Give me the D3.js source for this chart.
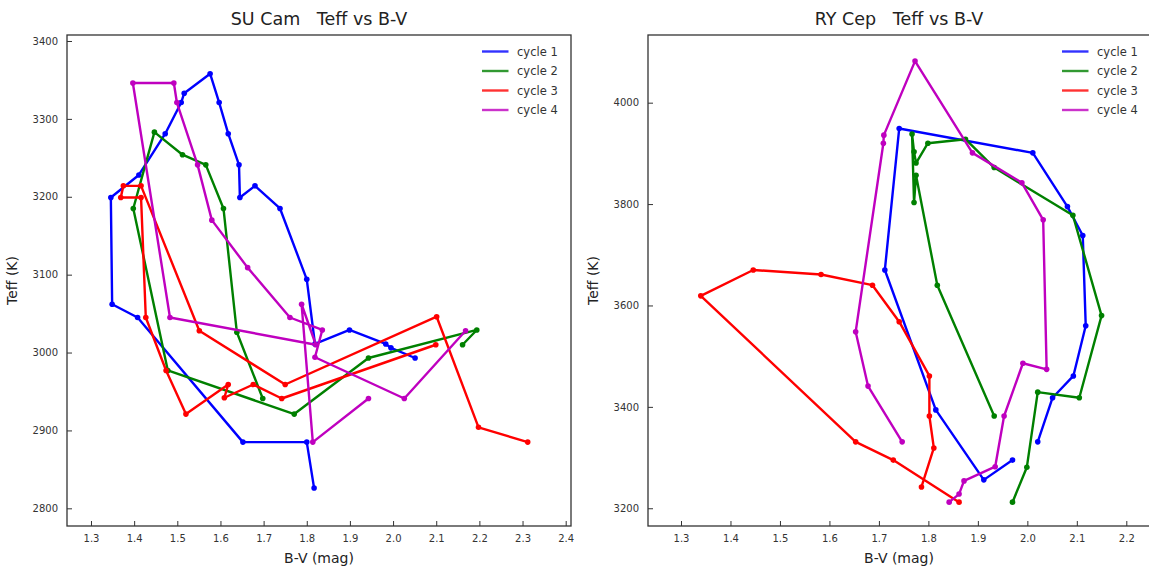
<!DOCTYPE html>
<html><head><meta charset="utf-8">
<script src="https://cdn.jsdelivr.net/npm/d3@7"></script>
<style>
body{margin:0;background:#fff;}
svg{display:block;font-family:"DejaVu Sans",sans-serif;}
</style>
</head><body>
<svg id="chart" width="1149" height="570"></svg>
<script>
// ---------- data ----------
const cycleNames = ["cycle 1", "cycle 2", "cycle 3", "cycle 4"];

// SU Cam
const suCamBV1   = [1.817, 1.800, 1.652, 1.408, 1.349, 1.346, 1.411, 1.472, 1.509, 1.516, 1.576, 1.597, 1.618, 1.643, 1.645, 1.680, 1.738, 1.800, 1.819, 1.899, 1.983, 1.995, 2.051];
const suCamTeff1 = [2826, 2885, 2885, 3045, 3062, 3199, 3228, 3281, 3321, 3333, 3358, 3321, 3281, 3241, 3199, 3214, 3185, 3094, 3011, 3029, 3011, 3006, 2993];
const suCamBV2   = [1.698, 1.638, 1.607, 1.566, 1.512, 1.447, 1.398, 1.478, 1.771, 1.943, 2.194, 2.161];
const suCamTeff2 = [2941, 3026, 3185, 3241, 3254, 3283, 3185, 2977, 2921, 2993, 3029, 3010];
const suCamBV3   = [2.099, 1.742, 1.676, 1.609, 1.618, 1.520, 1.474, 1.427, 1.416, 1.369, 1.375, 1.416, 1.551, 1.750, 2.101, 2.198, 2.312];
const suCamTeff3 = [3010, 2941, 2959, 2942, 2959, 2921, 2977, 3045, 3199, 3199, 3214, 3214, 3028, 2959, 3046, 2904, 2885];
const suCamBV4   = [2.168, 2.026, 1.819, 1.836, 1.761, 1.663, 1.580, 1.547, 1.499, 1.492, 1.397, 1.483, 1.821, 1.788, 1.814, 1.943];
const suCamTeff4 = [3028, 2941, 2994, 3029, 3045, 3109, 3170, 3241, 3321, 3346, 3346, 3045, 3010, 3062, 2885, 2941];

// RY Cep
const ryCepBV1   = [2.021, 2.051, 2.093, 2.118, 2.112, 2.081, 2.011, 1.741, 1.712, 1.815, 1.912, 1.970];
const ryCepTeff1 = [3331, 3418, 3461, 3560, 3738, 3795, 3901, 3949, 3670, 3394, 3256, 3295];
const ryCepBV2   = [1.970, 1.999, 2.021, 2.105, 2.150, 2.092, 1.933, 1.875, 1.799, 1.775, 1.771, 1.767, 1.771, 1.775, 1.818, 1.933];
const ryCepTeff2 = [3212, 3281, 3429, 3418, 3580, 3778, 3872, 3928, 3920, 3881, 3903, 3938, 3803, 3857, 3640, 3382];
const ryCepBV3   = [1.786, 1.811, 1.802, 1.802, 1.741, 1.687, 1.583, 1.446, 1.340, 1.653, 1.729, 1.862];
const ryCepTeff3 = [3242, 3319, 3382, 3461, 3568, 3640, 3661, 3670, 3619, 3331, 3295, 3212];
const ryCepBV4   = [1.747, 1.678, 1.653, 1.709, 1.710, 1.773, 1.889, 1.989, 2.032, 2.039, 1.991, 1.953, 1.935, 1.872, 1.862, 1.842];
const ryCepTeff4 = [3331, 3441, 3548, 3920, 3936, 4082, 3901, 3842, 3769, 3474, 3486, 3382, 3282, 3254, 3228, 3212];

// tick labels
const suCamXTicks = [1.3, 1.4, 1.5, 1.6, 1.7, 1.8, 1.9, 2.0, 2.1, 2.2, 2.3, 2.4];
const suCamYTicks = [2800, 2900, 3000, 3100, 3200, 3300, 3400];
const ryCepXTicks = [1.3, 1.4, 1.5, 1.6, 1.7, 1.8, 1.9, 2.0, 2.1, 2.2];
const ryCepYTicks = [3200, 3400, 3600, 3800, 4000];

// ---------- drawing ----------
const colors = ["#0000ff", "#008000", "#ff0000", "#bf00bf"];
const svg = d3.select("#chart");

function drawPanel(p) {
  const x = d3.scaleLinear().domain(p.xDomain).range([p.left, p.right]);
  const y = d3.scaleLinear().domain(p.yDomain).range([p.bottom, p.top]);
  const g = svg.append("g");

  const series = p.bv.map((bv, i) => bv.map((v, j) => ({ x: v, y: p.teff[i][j] })));
  const line = d3.line().x(d => x(d.x)).y(d => y(d.y));

  series.forEach((s, i) => {
    g.append("path").datum(s).attr("d", line)
      .attr("fill", "none").attr("stroke", colors[i])
      .attr("stroke-width", 2.4).attr("stroke-linejoin", "round");
    g.selectAll(null).data(s).enter().append("circle")
      .attr("cx", d => x(d.x)).attr("cy", d => y(d.y)).attr("r", 2.8)
      .attr("fill", colors[i]);
  });

  // axes (ticks inward)
  const xAxis = d3.axisBottom(x).tickValues(p.xTicks).tickFormat(d3.format(".1f"))
    .tickSizeInner(-5).tickSizeOuter(0).tickPadding(9);
  const yAxis = d3.axisLeft(y).tickValues(p.yTicks).tickFormat(d3.format("d"))
    .tickSizeInner(-5).tickSizeOuter(0).tickPadding(9);
  const gx = g.append("g").attr("transform", `translate(0,${p.bottom})`).call(xAxis);
  const gy = g.append("g").attr("transform", `translate(${p.left},0)`).call(yAxis);
  [gx, gy].forEach(a => {
    a.select(".domain").remove();
    a.selectAll(".tick line").attr("stroke", "#333").attr("stroke-width", 1);
    a.selectAll(".tick text").attr("fill", "#333").attr("font-size", 10)
      .attr("font-family", "DejaVu Sans, sans-serif");
  });

  // frame
  g.append("rect").attr("x", p.left).attr("y", p.top)
    .attr("width", p.right - p.left).attr("height", p.bottom - p.top)
    .attr("fill", "none").attr("stroke", "#333").attr("stroke-width", 1.3);

  // title and labels
  g.append("text").attr("x", (p.left + p.right) / 2).attr("y", 25)
    .attr("text-anchor", "middle").attr("font-size", 17.5).attr("fill", "#222")
    .style("white-space", "pre").text(p.title);
  g.append("text").attr("x", (p.left + p.right) / 2).attr("y", 563)
    .attr("text-anchor", "middle").attr("font-size", 14).attr("fill", "#222")
    .text("B-V (mag)");
  g.append("text").attr("transform", `translate(${p.left - 50},${(p.top + p.bottom) / 2}) rotate(-90)`)
    .attr("text-anchor", "middle").attr("font-size", 14).attr("fill", "#222")
    .text("Teff (K)");

  // legend
  const lg = g.append("g");
  cycleNames.forEach((name, i) => {
    const ly = 51.5 + i * 19.5;
    lg.append("line").attr("x1", p.legendX).attr("x2", p.legendX + 26.5)
      .attr("y1", ly).attr("y2", ly).attr("stroke", colors[i]).attr("stroke-width", 2.4)
      .attr("opacity", 0.8);
    lg.append("text").attr("x", p.legendX + 35).attr("y", ly + 4)
      .attr("font-size", 11.5).attr("fill", "#333").text(name);
  });
}

drawPanel({
  title: "SU Cam   Teff vs B-V",
  left: 67, right: 571, top: 35, bottom: 526,
  xDomain: [1.2444, 2.4123], yDomain: [2777.3, 3407.7],
  xTicks: suCamXTicks, yTicks: suCamYTicks,
  bv: [suCamBV1, suCamBV2, suCamBV3, suCamBV4],
  teff: [suCamTeff1, suCamTeff2, suCamTeff3, suCamTeff4],
  legendX: 482
});
drawPanel({
  title: "RY Cep   Teff vs B-V",
  left: 648, right: 1150, top: 35, bottom: 526,
  xDomain: [1.2333, 2.2479], yDomain: [3165, 4133.5],
  xTicks: ryCepXTicks, yTicks: ryCepYTicks,
  bv: [ryCepBV1, ryCepBV2, ryCepBV3, ryCepBV4],
  teff: [ryCepTeff1, ryCepTeff2, ryCepTeff3, ryCepTeff4],
  legendX: 1062
});
</script>
</body></html>
